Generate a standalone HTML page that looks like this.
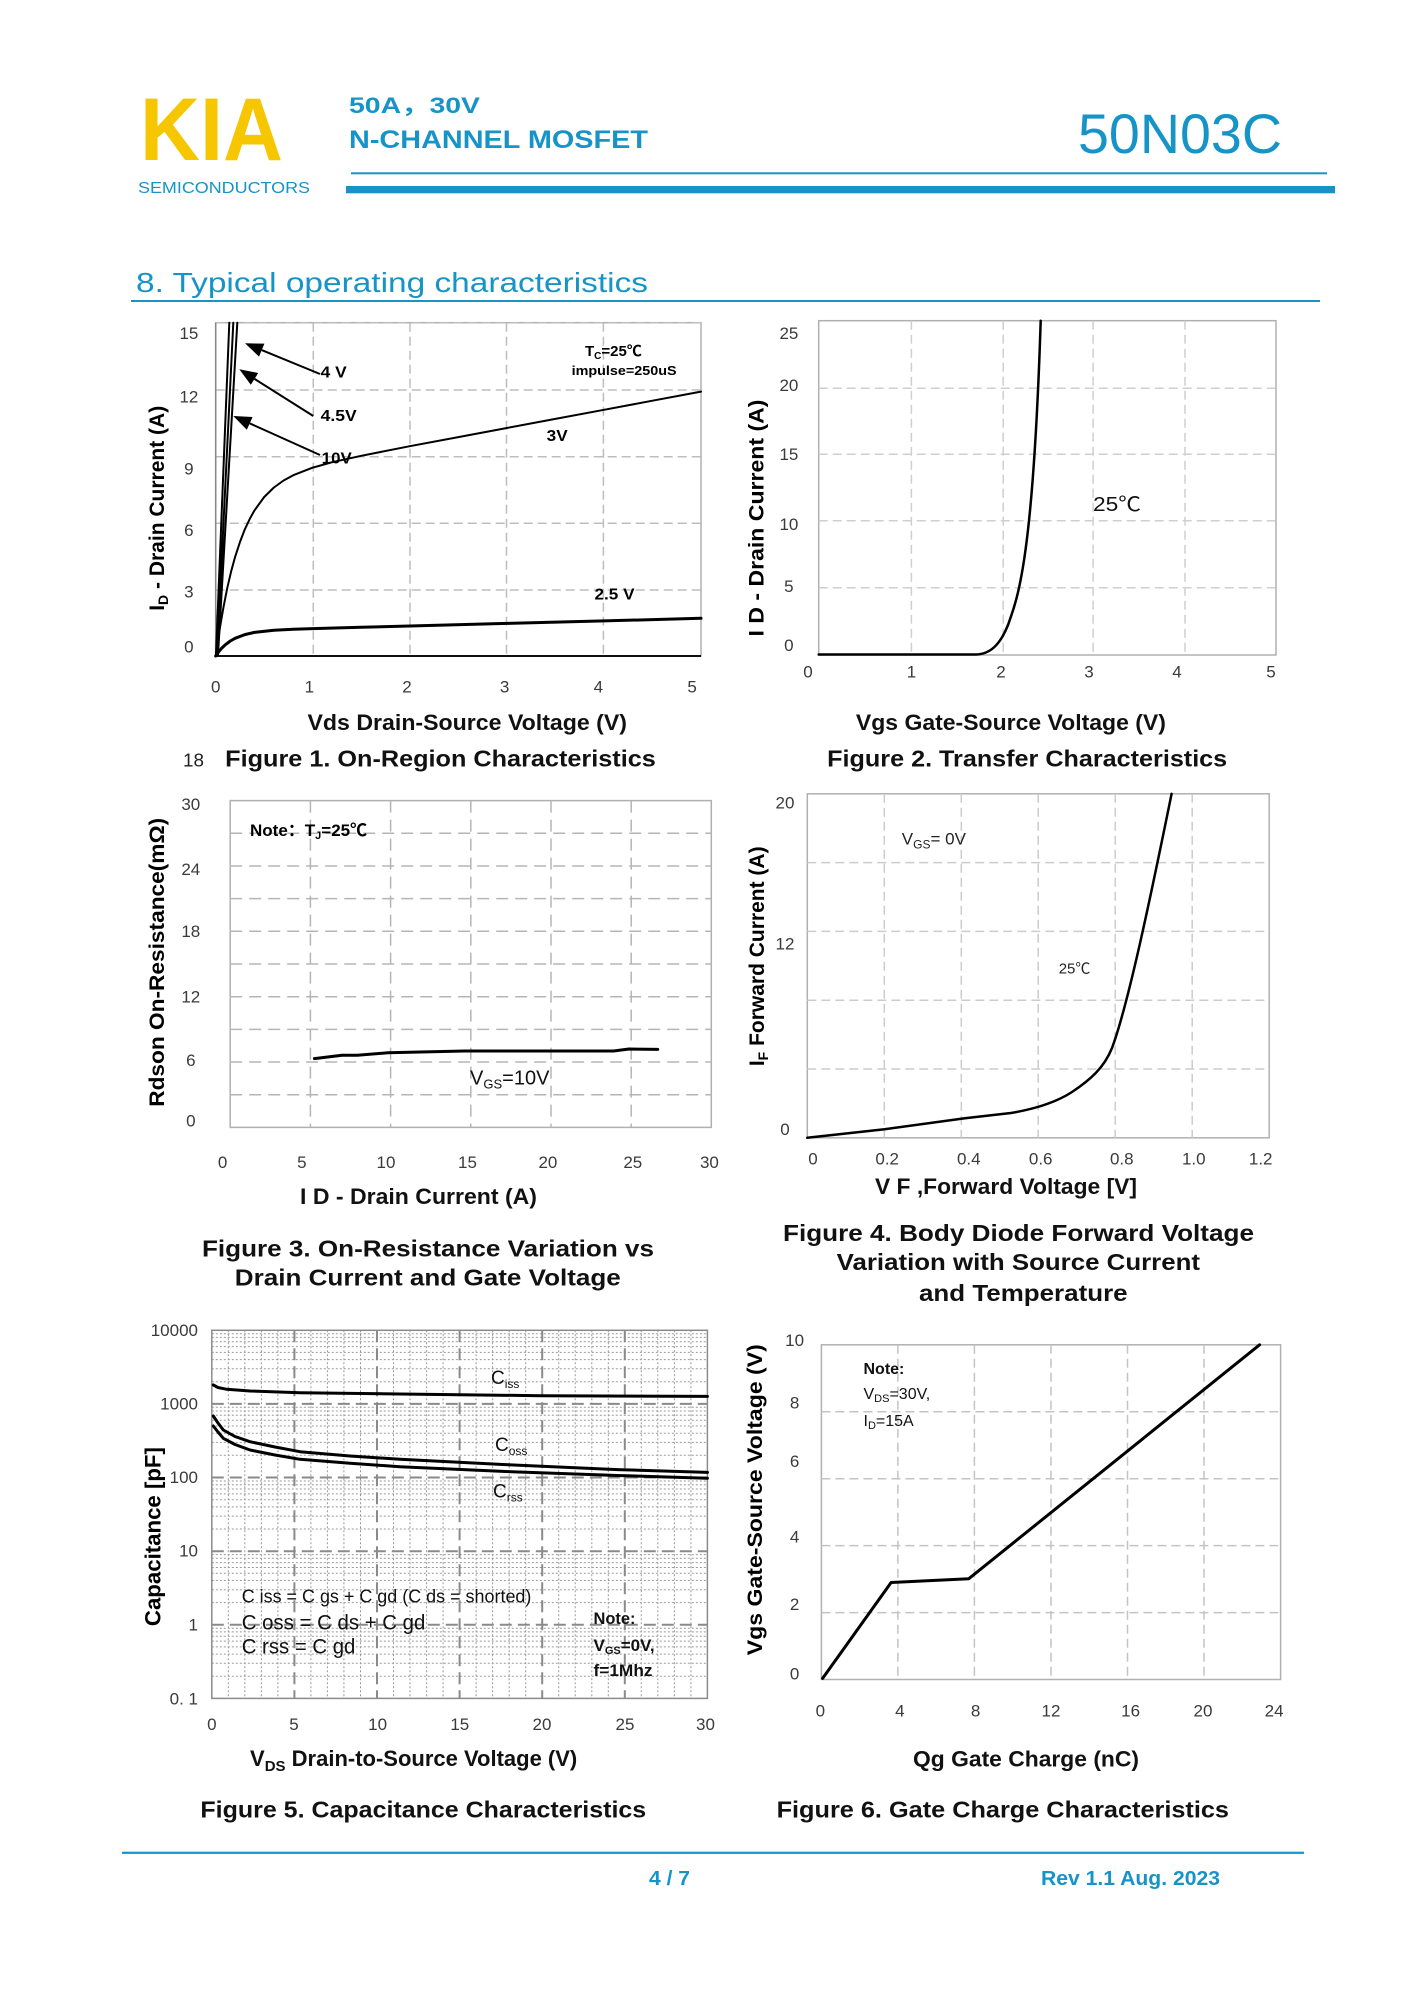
<!DOCTYPE html>
<html><head><meta charset="utf-8"><style>
html,body{margin:0;padding:0;background:#fff;}
svg{display:block;}
text{font-family:"Liberation Sans","Noto Sans CJK SC",Arial,sans-serif;}
.tk{font-size:17px;fill:#3a3a3a;}
.b{font-weight:bold;}
.bl{fill:#1694c8;}
.cap{font-size:23px;font-weight:bold;fill:#111;}
.ax{font-size:22px;font-weight:bold;fill:#111;}
.g{stroke:#bdbdbd;stroke-width:1.5;stroke-dasharray:9,5;fill:none;}
.fr{stroke:#b0b0b0;stroke-width:1.5;fill:none;}
.c{stroke:#000;fill:none;stroke-linejoin:round;stroke-linecap:round;}
</style></head><body>
<svg width="1414" height="2000" viewBox="0 0 1414 2000" xmlns="http://www.w3.org/2000/svg">
<rect width="1414" height="2000" fill="#fff"/>

<!-- HEADER -->
<text x="140" y="160" font-size="89" font-weight="bold" fill="#F6C600" textLength="143" lengthAdjust="spacingAndGlyphs">KIA</text>
<text x="138" y="193" font-size="16" class="bl" textLength="172" lengthAdjust="spacingAndGlyphs">SEMICONDUCTORS</text>
<text x="349" y="113" font-size="22" class="b bl" textLength="131" lengthAdjust="spacingAndGlyphs">50A，30V</text>
<text x="349" y="148" font-size="25" class="b bl" textLength="299" lengthAdjust="spacingAndGlyphs">N-CHANNEL MOSFET</text>
<text x="1078" y="153" font-size="56" class="bl" textLength="204" lengthAdjust="spacingAndGlyphs">50N03C</text>
<rect x="351" y="172.3" width="976" height="2" fill="#1694c8"/>
<rect x="346" y="186" width="989" height="7.3" fill="#1694c8"/>
<text x="136" y="292" font-size="28" class="bl" textLength="512" lengthAdjust="spacingAndGlyphs">8. Typical operating characteristics</text>
<rect x="131" y="300" width="1189" height="2" fill="#1694c8"/>

<!-- FIGURE 1 -->
<g>
<rect x="215.7" y="322.7" width="485.3" height="333.3" class="fr"/>
<path class="g" d="M215.7,322.7H701M215.7,390H701M215.7,456.7H701M215.7,523.3H701M215.7,590H701M313.3,322.7V656M410,322.7V656M506.5,322.7V656M603.4,322.7V656"/>
<line x1="215.7" y1="656" x2="701" y2="656" stroke="#111" stroke-width="2"/>
<line x1="215.7" y1="656" x2="215.7" y2="322.7" stroke="#888" stroke-width="1.5"/>
<path class="c" stroke-width="2" d="M216,655L229.3,322.7M217,655L233.3,322.7M218,655L237.3,322.7"/>
<polyline class="c" stroke-width="2" points="215.7,656 217.6,642.3 220.6,623.7 223.5,607.1 227.3,587.8 231.2,571.2 235.1,556.9 240,541.9 244.8,529.4 249.7,519 254.5,510.4 264.2,497 273.9,487.5 283.6,480.5 293.3,475.2 312.8,467.6 332.2,462.2 361.3,455.8 409.8,446.2 458.3,437.1 506.9,428 555.4,418.9 604,409.8 652.5,400.7 701,391.6"/>
<polyline class="c" stroke-width="3" points="215.7,656 218.6,651.9 221.5,648.4 225.4,644.7 230.3,641 235.1,638.3 244.8,634.6 254.5,632.4 273.9,630.3 293.3,629.3 312.8,628.6 361.3,627.3 409.8,626 506.9,623.4 604,620.9 701,618.3"/>
<line x1="320" y1="374" x2="261.7" y2="350.1" stroke="#000" stroke-width="2"/>
<polygon points="245,343.3 264.4,343.6 259,356.6" fill="#000"/>
<line x1="313.3" y1="416" x2="254.5" y2="378.9" stroke="#000" stroke-width="2"/>
<polygon points="239.3,369.3 258.2,373 250.8,384.8" fill="#000"/>
<line x1="320" y1="455" x2="249.7" y2="423.4" stroke="#000" stroke-width="2"/>
<polygon points="233.3,416 252.6,417 246.8,429.8" fill="#000"/>
<text x="320.7" y="377.7" font-size="16" class="b" textLength="26" lengthAdjust="spacingAndGlyphs">4 V</text>
<text x="320.7" y="421" font-size="16" class="b" textLength="36" lengthAdjust="spacingAndGlyphs">4.5V</text>
<text x="321.7" y="463.7" font-size="16" class="b" textLength="30" lengthAdjust="spacingAndGlyphs">10V</text>
<text x="546.7" y="441" font-size="16" class="b" textLength="21" lengthAdjust="spacingAndGlyphs">3V</text>
<text x="594.5" y="599.3" font-size="16" class="b" textLength="40" lengthAdjust="spacingAndGlyphs">2.5 V</text>
<text x="585" y="356" font-size="15" class="b">T<tspan font-size="10" dy="3">C</tspan><tspan dy="-3">=25℃</tspan></text>
<text x="571.6" y="375" font-size="13" class="b" textLength="105" lengthAdjust="spacingAndGlyphs">impulse=250uS</text>
<g class="tk" text-anchor="middle">
<text x="188.9" y="339">15</text><text x="188.9" y="402.7">12</text><text x="188.9" y="474.3">9</text>
<text x="188.9" y="536">6</text><text x="188.9" y="597.7">3</text><text x="188.9" y="652.7">0</text>
<text x="215.7" y="692.7">0</text><text x="309.4" y="692.7">1</text><text x="407" y="692.7">2</text>
<text x="504.6" y="692.7">3</text><text x="598.4" y="692.7">4</text><text x="692.1" y="692.7">5</text>
</g>
<text transform="translate(164,508.3) rotate(-90)" text-anchor="middle" font-size="21" class="b">I<tspan font-size="14" dy="4">D</tspan><tspan dy="-4"> - Drain Current (A)</tspan></text>
<text x="307.5" y="730" class="ax" textLength="319.5" lengthAdjust="spacingAndGlyphs">Vds Drain-Source Voltage (V)</text>
<text x="183" y="766.6" font-size="18" fill="#222" textLength="21" lengthAdjust="spacingAndGlyphs">18</text>
<text x="225.2" y="766.6" class="cap" textLength="430.6" lengthAdjust="spacingAndGlyphs">Figure 1. On-Region Characteristics</text>
</g>

<!-- FIGURE 2 -->
<g>
<rect x="818.7" y="320.7" width="457.3" height="334.3" class="fr"/>
<path class="g" style="stroke:#cfcfcf" d="M818.7,388.3H1276M818.7,454.3H1276M818.7,520.7H1276M818.7,587.7H1276M911.4,320.7V655M1003.2,320.7V655M1093.1,320.7V655M1185,320.7V655"/>
<path class="c" stroke-width="2.5" d="M818.7,654.5L975,654.5C990,654.5 1000,645 1008,625C1018,597 1033,560 1040.7,320.7"/>
<text x="1093" y="511" font-size="20" fill="#111" textLength="48" lengthAdjust="spacingAndGlyphs">25℃</text>
<g class="tk" text-anchor="middle">
<text x="788.9" y="339">25</text><text x="788.9" y="391">20</text><text x="788.9" y="460">15</text>
<text x="788.9" y="530">10</text><text x="788.9" y="592">5</text><text x="788.9" y="651">0</text>
<text x="808" y="677.7">0</text><text x="911.5" y="677.7">1</text><text x="1001" y="677.7">2</text>
<text x="1089" y="677.7">3</text><text x="1177" y="677.7">4</text><text x="1271" y="677.7">5</text>
</g>
<text transform="translate(763.5,518) rotate(-90)" text-anchor="middle" font-size="21" class="b" textLength="237" lengthAdjust="spacingAndGlyphs">I D - Drain Current (A)</text>
<text x="855.9" y="730" class="ax" textLength="310" lengthAdjust="spacingAndGlyphs">Vgs Gate-Source Voltage (V)</text>
<text x="827.2" y="766.6" class="cap" textLength="400" lengthAdjust="spacingAndGlyphs">Figure 2. Transfer Characteristics</text>
</g>

<!-- FIGURE 3 -->
<g>
<rect x="230.2" y="800.6" width="481.1" height="326.8" class="fr"/>
<path class="g" style="stroke:#b5b5b5;stroke-dasharray:12,7" d="M230.2,1094.7H711.3M230.2,1062H711.3M230.2,1029.4H711.3M230.2,996.7H711.3M230.2,964H711.3M230.2,931.3H711.3M230.2,898.6H711.3M230.2,866H711.3M230.2,833.3H711.3M310.4,800.6V1127.4M390.6,800.6V1127.4M470.8,800.6V1127.4M551,800.6V1127.4M631.2,800.6V1127.4"/>
<polyline class="c" stroke-width="3" points="314.4,1058.6 342,1055.2 357.3,1055.2 387.9,1052.8 464.4,1051 613.7,1051 629,1049 657.7,1049.4"/>
<text x="250" y="836" font-size="17" class="b">Note：T<tspan font-size="11" dy="3">J</tspan><tspan dy="-3">=25℃</tspan></text>
<text x="470" y="1084.6" font-size="20" fill="#111">V<tspan font-size="13" dy="4">GS</tspan><tspan dy="-4">=10V</tspan></text>
<g class="tk" text-anchor="middle">
<text x="190.8" y="810">30</text><text x="190.8" y="875">24</text><text x="190.8" y="937">18</text>
<text x="190.8" y="1002.7">12</text><text x="190.8" y="1066">6</text><text x="190.8" y="1126.6">0</text>
<text x="222.6" y="1167.8">0</text><text x="301.8" y="1167.8">5</text><text x="386" y="1167.8">10</text>
<text x="467.5" y="1167.8">15</text><text x="547.9" y="1167.8">20</text><text x="632.8" y="1167.8">25</text><text x="709.4" y="1167.8">30</text>
</g>
<text transform="translate(164,962.3) rotate(-90)" text-anchor="middle" font-size="21" class="b" textLength="289" lengthAdjust="spacingAndGlyphs">Rdson On-Resistance(mΩ)</text>
<text x="300" y="1204" class="ax" textLength="237" lengthAdjust="spacingAndGlyphs">I D - Drain Current (A)</text>
<text x="202" y="1256.4" class="cap" textLength="452" lengthAdjust="spacingAndGlyphs">Figure 3. On-Resistance Variation  vs</text>
<text x="234.8" y="1285.6" class="cap" textLength="386" lengthAdjust="spacingAndGlyphs">Drain Current and Gate Voltage</text>
</g>

<!-- FIGURE 4 -->
<g>
<rect x="807.3" y="793.8" width="461.9" height="344" class="fr"/>
<path class="g" style="stroke:#cccccc" d="M884.3,793.8V1137.8M961.3,793.8V1137.8M1038.2,793.8V1137.8M1115.2,793.8V1137.8M1192.2,793.8V1137.8M807.3,1069H1269.2M807.3,1000.2H1269.2M807.3,931.4H1269.2M807.3,862.6H1269.2"/>
<path class="c" stroke-width="2.5" d="M807.3,1137.8L884.6,1129.2L964.9,1118.2L1010.9,1113C1035,1109 1055,1103 1072,1092C1090,1080 1104,1068 1112,1048C1128,1005 1150,900 1171.6,793.8"/>
<text x="901.8" y="844.5" font-size="17" fill="#222">V<tspan font-size="12" dy="4">GS</tspan><tspan dy="-4">= 0V</tspan></text>
<text x="1058.7" y="973.5" font-size="15" fill="#222">25℃</text>
<g class="tk" text-anchor="middle">
<text x="785" y="808.4">20</text><text x="785" y="949.4">12</text><text x="785" y="1135">0</text>
<text x="813" y="1164.4">0</text><text x="887.2" y="1164.4">0.2</text><text x="968.8" y="1164.4">0.4</text>
<text x="1040.7" y="1164.4">0.6</text><text x="1121.8" y="1164.4">0.8</text><text x="1193.8" y="1164.4">1.0</text><text x="1260.7" y="1164.4">1.2</text>
</g>
<text transform="translate(764,956.3) rotate(-90)" text-anchor="middle" font-size="21" class="b">I<tspan font-size="14" dy="4">F</tspan><tspan dy="-4"> Forward Current (A)</tspan></text>
<text x="875" y="1194" class="ax" textLength="262" lengthAdjust="spacingAndGlyphs">V F ,Forward Voltage [V]</text>
<text x="783" y="1241" class="cap" textLength="471" lengthAdjust="spacingAndGlyphs">Figure 4. Body Diode Forward Voltage</text>
<text x="836.7" y="1270.2" class="cap" textLength="363.3" lengthAdjust="spacingAndGlyphs">Variation with Source Current</text>
<text x="919" y="1301.2" class="cap" textLength="208.6" lengthAdjust="spacingAndGlyphs">and Temperature</text>
</g>

<!-- FIGURE 5 -->
<g>
<path stroke="#9a9a9a" stroke-width="1" stroke-dasharray="2,2" fill="none" d="M228.3,1330.3V1698.4M244.8,1330.3V1698.4M261.4,1330.3V1698.4M277.9,1330.3V1698.4M310.9,1330.3V1698.4M327.4,1330.3V1698.4M343.9,1330.3V1698.4M360.5,1330.3V1698.4M393.5,1330.3V1698.4M410,1330.3V1698.4M426.6,1330.3V1698.4M443.1,1330.3V1698.4M476.1,1330.3V1698.4M492.6,1330.3V1698.4M509.2,1330.3V1698.4M525.7,1330.3V1698.4M558.7,1330.3V1698.4M575.2,1330.3V1698.4M591.8,1330.3V1698.4M608.3,1330.3V1698.4M641.3,1330.3V1698.4M657.8,1330.3V1698.4M674.4,1330.3V1698.4M690.9,1330.3V1698.4
M211.8,1676.2H707.4M211.8,1663.3H707.4M211.8,1654.1H707.4M211.8,1646.9H707.4M211.8,1641.1H707.4M211.8,1636.2H707.4M211.8,1631.9H707.4M211.8,1628.2H707.4
M211.8,1602.6H707.4M211.8,1589.7H707.4M211.8,1580.5H707.4M211.8,1573.3H707.4M211.8,1567.5H707.4M211.8,1562.6H707.4M211.8,1558.3H707.4M211.8,1554.6H707.4
M211.8,1529H707.4M211.8,1516.1H707.4M211.8,1506.9H707.4M211.8,1499.7H707.4M211.8,1493.9H707.4M211.8,1489H707.4M211.8,1484.7H707.4M211.8,1481H707.4
M211.8,1455.3H707.4M211.8,1442.4H707.4M211.8,1433.2H707.4M211.8,1426H707.4M211.8,1420.2H707.4M211.8,1415.3H707.4M211.8,1411H707.4M211.8,1407.3H707.4
M211.8,1381.7H707.4M211.8,1368.8H707.4M211.8,1359.6H707.4M211.8,1352.4H707.4M211.8,1346.6H707.4M211.8,1341.7H707.4M211.8,1337.4H707.4M211.8,1333.7H707.4"/>
<path stroke="#8a8a8a" stroke-width="2" stroke-dasharray="12,6" fill="none" d="M294.4,1330.3V1698.4M377,1330.3V1698.4M459.6,1330.3V1698.4M542.2,1330.3V1698.4M624.8,1330.3V1698.4M211.8,1403.9H707.4M211.8,1477.5H707.4M211.8,1551.2H707.4M211.8,1624.8H707.4"/>
<rect x="211.8" y="1330.3" width="495.6" height="368.1" stroke="#8a8a8a" stroke-width="1.5" fill="none"/>
<polyline class="c" stroke-width="3" points="213.3,1385 218,1387.5 226.7,1389.3 250,1391 300,1392.7 400,1394 541,1395.7 707.4,1396.4"/>
<polyline class="c" stroke-width="3" points="213.3,1416 218,1423 223.3,1430 235,1436.5 250,1441.7 275,1447 300,1451.7 350,1456 400,1459.3 502.7,1464.5 617.5,1469.6 707.4,1472.4"/>
<polyline class="c" stroke-width="3" points="213.3,1426 218,1432 223.3,1438.3 235,1444.5 250,1450 275,1455 300,1459.3 350,1463.3 400,1466.7 502.7,1471.4 617.5,1475.5 707.4,1478.2"/>
<text x="491" y="1383.8" font-size="19" fill="#111">C<tspan font-size="12" dy="4">iss</tspan></text>
<text x="495" y="1450.8" font-size="19" fill="#111">C<tspan font-size="12" dy="4">oss</tspan></text>
<text x="493" y="1497.3" font-size="19" fill="#111">C<tspan font-size="12" dy="4">rss</tspan></text>
<text x="241.7" y="1602.3" font-size="18" fill="#111" textLength="289.7" lengthAdjust="spacingAndGlyphs">C iss = C gs + C gd (C ds = shorted)</text>
<text x="241.7" y="1629.5" font-size="21" fill="#111" textLength="183.7" lengthAdjust="spacingAndGlyphs">C oss = C ds + C gd</text>
<text x="241.7" y="1653.5" font-size="21" fill="#111" textLength="113.7" lengthAdjust="spacingAndGlyphs">C rss = C gd</text>
<text x="593.5" y="1624" font-size="17" class="b" fill="#111" textLength="42" lengthAdjust="spacingAndGlyphs">Note:</text>
<text x="593.5" y="1651" font-size="17" class="b" fill="#111">V<tspan font-size="11" dy="3">GS</tspan><tspan dy="-3">=0V,</tspan></text>
<text x="593.5" y="1676" font-size="17" class="b" fill="#111" textLength="59" lengthAdjust="spacingAndGlyphs">f=1Mhz</text>
<g class="tk" text-anchor="end">
<text x="198" y="1336">10000</text><text x="198" y="1409.6">1000</text><text x="198" y="1483.2">100</text>
<text x="198" y="1556.5">10</text><text x="198" y="1630.4">1</text><text x="198" y="1704.4">0. 1</text>
</g>
<g class="tk" text-anchor="middle">
<text x="211.8" y="1730">0</text><text x="294" y="1730">5</text><text x="377.6" y="1730">10</text>
<text x="459.8" y="1730">15</text><text x="542" y="1730">20</text><text x="625" y="1730">25</text><text x="705.5" y="1730">30</text>
</g>
<text transform="translate(160.5,1536.6) rotate(-90)" text-anchor="middle" font-size="22" class="b" textLength="179" lengthAdjust="spacingAndGlyphs">Capacitance [pF]</text>
<text x="250" y="1766" font-size="22" class="b" fill="#111">V<tspan font-size="15" dy="5">DS</tspan><tspan dy="-5">  Drain-to-Source Voltage (V)</tspan></text>
<text x="200.4" y="1817.5" class="cap" textLength="445.8" lengthAdjust="spacingAndGlyphs">Figure 5. Capacitance Characteristics</text>
</g>

<!-- FIGURE 6 -->
<g>
<rect x="821.4" y="1344.8" width="459.2" height="334.7" class="fr"/>
<path class="g" style="stroke:#c4c4c4" d="M821.4,1612.6H1280.6M821.4,1545.6H1280.6M821.4,1478.7H1280.6M821.4,1411.7H1280.6M897.9,1344.8V1679.5M974.4,1344.8V1679.5M1051,1344.8V1679.5M1127.5,1344.8V1679.5M1204,1344.8V1679.5"/>
<polyline class="c" stroke-width="3" points="822.6,1678.4 891.1,1582.5 968.8,1578.7 1259.6,1344.8"/>
<text x="863.5" y="1374" font-size="16" class="b" fill="#111">Note:</text>
<text x="863.5" y="1399" font-size="16" fill="#111">V<tspan font-size="11" dy="3">DS</tspan><tspan dy="-3">=30V,</tspan></text>
<text x="863.5" y="1426" font-size="16" fill="#111">I<tspan font-size="11" dy="3">D</tspan><tspan dy="-3">=15A</tspan></text>
<g class="tk" text-anchor="middle">
<text x="794.6" y="1346">10</text><text x="794.6" y="1408.6">8</text><text x="794.6" y="1467">6</text>
<text x="794.6" y="1542.7">4</text><text x="794.6" y="1609.8">2</text><text x="794.6" y="1679.6">0</text>
<text x="820.3" y="1716.4">0</text><text x="899.9" y="1716.4">4</text><text x="975.6" y="1716.4">8</text>
<text x="1051" y="1716.4">12</text><text x="1130.6" y="1716.4">16</text><text x="1203" y="1716.4">20</text><text x="1274.1" y="1716.4">24</text>
</g>
<text transform="translate(762,1499.7) rotate(-90)" text-anchor="middle" font-size="21" class="b" textLength="311" lengthAdjust="spacingAndGlyphs">Vgs Gate-Source Voltage (V)</text>
<text x="913" y="1766.5" class="ax" textLength="226" lengthAdjust="spacingAndGlyphs">Qg Gate Charge (nC)</text>
<text x="776.6" y="1817.5" class="cap" textLength="452.4" lengthAdjust="spacingAndGlyphs">Figure 6. Gate Charge Characteristics</text>
</g>

<!-- FOOTER -->
<rect x="122" y="1851.7" width="1182" height="2.2" fill="#1694c8"/>
<text x="649" y="1885" font-size="20" class="b bl" textLength="41" lengthAdjust="spacingAndGlyphs">4 / 7</text>
<text x="1041" y="1885" font-size="20" class="b bl" textLength="179" lengthAdjust="spacingAndGlyphs">Rev 1.1 Aug. 2023</text>
</svg>
</body></html>
